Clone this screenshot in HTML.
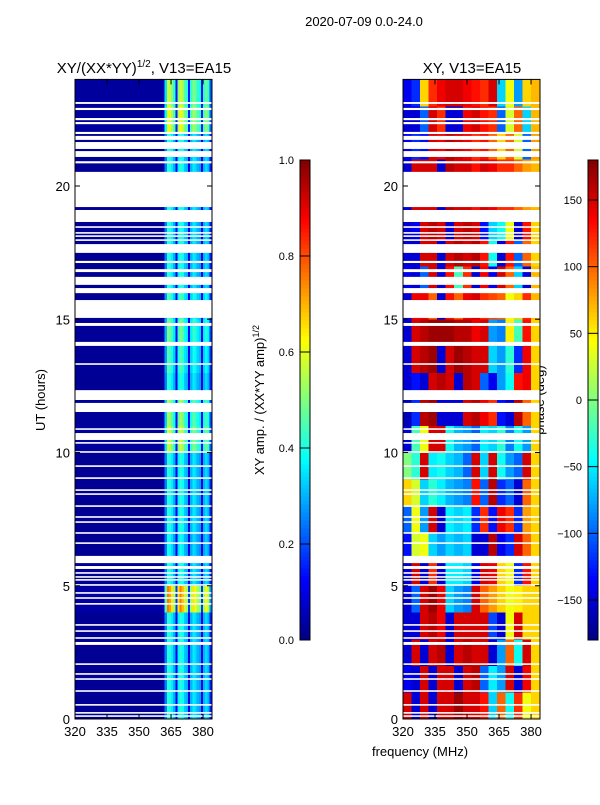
<!DOCTYPE html>
<html><head><meta charset="utf-8"><style>
html,body{margin:0;padding:0;background:#fff;}
svg text{font-family:"Liberation Sans","DejaVu Sans",sans-serif;fill:#000;}
</style></head><body>
<svg id="fig" xmlns="http://www.w3.org/2000/svg" width="600" height="800" viewBox="0 0 600 800">
<rect x="0" y="0" width="600" height="800" fill="#fff"/>
<text x="364" y="26" font-size="13" text-anchor="middle">2020-07-09 0.0-24.0</text>
<text x="144" y="73" font-size="15" text-anchor="middle">XY/(XX*YY)<tspan font-size="10" dy="-6">1/2</tspan><tspan dy="6">, V13=EA15</tspan></text>
<text x="472" y="73" font-size="15" text-anchor="middle">XY, V13=EA15</text>
<text x="45" y="400" font-size="13" text-anchor="middle" transform="rotate(-90 45 400)">UT (hours)</text>
<text x="420" y="756" font-size="13" text-anchor="middle">frequency (MHz)</text>
<text x="264" y="400" font-size="13" text-anchor="middle" transform="rotate(-90 264 400)">XY amp. / (XX*YY amp)<tspan font-size="9" dy="-5">1/2</tspan></text>
<text x="544" y="400" font-size="13" text-anchor="middle" transform="rotate(-90 544 400)">phase (deg)</text>
<g id="L"></g>
<g id="R"></g>
<g id="CB"></g>
</svg>
<script>
// ---- data ----
const hourTicks = [0,5,10,15,20];
const freqTicks = [320,335,350,365,380];
const ampTicks = [0.0,0.2,0.4,0.6,0.8,1.0];
const phaseTicks = [-150,-100,-50,0,50,100,150];
const gaps = [[23.08,23.15],[22.85,22.93],[22.47,22.55],[22.32,22.4],[21.95,22.03],[21.73,21.88],[21.39,21.65],[21.09,21.31],[20.85,20.93],[19.21,20.53],[18.65,19.1],[18.43,18.49],[18.21,18.27],[18.09,18.15],[17.94,18.0],[17.49,17.82],[17.11,17.19],[16.77,16.88],[16.29,16.59],[15.98,16.17],[15.05,15.72],[14.75,14.86],[14.0,14.15],[13.29,13.35],[11.97,12.34],[11.52,11.86],[10.85,10.91],[10.47,10.73],[10.33,10.39],[9.99,10.05],[9.46,9.52],[9.01,9.07],[8.56,8.62],[8.41,8.47],[7.96,8.02],[7.55,7.61],[7.36,7.42],[6.95,7.01],[6.57,6.63],[5.85,6.12],[5.63,5.74],[5.45,5.51],[5.3,5.36],[5.19,5.25],[5.0,5.06],[4.7,4.76],[4.51,4.57],[4.29,4.35],[3.5,3.56],[3.27,3.33],[3.01,3.07],[2.78,2.89],[2.03,2.09],[1.66,1.72],[1.47,1.53],[1.02,1.08],[0.5,0.56],[0.2,0.26],[0.08,0.14]];
const ampProfile = [0.02,0.02,0.02,0.02,0.02,0.02,0.02,0.02,0.02,0.02,0.02,0.02,0.02,0.02,0.02,0.02,0.02,0.02,0.02,0.02,0.02,0.02,0.02,0.02,0.02,0.02,0.02,0.02,0.02,0.02,0.02,0.02,0.02,0.02,0.02,0.02,0.02,0.02,0.02,0.02,0.02,0.04,0.25,0.42,0.4,0.36,0.3,0.1,0.36,0.42,0.38,0.32,0.3,0.1,0.3,0.36,0.34,0.3,0.28,0.1,0.3,0.34,0.3,0.15];
const ampScale = [1,1,1,1,1.8,1,0.95,1,1,1,1.4,1.3,1,1.1,1.2,1.1,1,1,1,1,1,1,1.5,1.4];
const phaseGrid = [
[150,-150,150,-150,150,150,170,150,150,130,-60,100,-40,120,40,60],
[-140,-150,150,-150,150,150,-150,150,160,-100,-50,-80,150,-150,140,60],
[-150,150,-150,150,160,-150,150,160,150,150,-150,-80,100,-40,150,60],
[-150,-150,150,160,140,-150,150,150,150,150,-110,-150,40,150,60,60],
[-150,-100,150,170,140,-60,-80,-90,150,100,80,60,40,50,60,60],
[-150,150,-150,120,-150,-50,-50,-60,-140,150,140,60,40,-120,130,60],
[-130,30,40,-60,-80,-60,-70,-60,-150,-150,160,-140,-120,150,100,60],
[-100,40,-80,150,-150,-50,-60,-50,-120,120,-130,140,120,-120,80,60],
[60,30,-60,-30,-50,-70,-80,-90,130,-100,160,-120,-100,-150,100,60],
[0,-30,150,-50,-40,-60,-70,-100,150,-60,150,-40,-80,-100,150,60],
[-150,-20,40,150,150,-40,-70,-80,-100,-50,-60,-30,-90,-40,-80,60],
[-160,-120,160,170,-150,-150,-150,150,160,140,120,-130,-150,160,100,60],
[-150,-130,-150,150,160,150,-150,160,150,-100,-140,-80,-40,130,140,60],
[-150,150,160,170,-150,150,170,160,150,150,-60,-80,-30,-120,140,60],
[-150,150,160,170,170,170,160,160,140,150,-80,-90,50,-20,130,60],
[-150,140,140,100,-150,130,100,140,150,120,110,100,40,60,120,70],
[-140,-150,-100,150,-150,130,-20,120,-150,140,-140,150,100,-60,-150,70],
[-150,-150,150,150,-150,150,160,150,160,130,-40,-150,130,-100,100,60],
[-150,-140,150,160,150,-150,150,160,150,-130,-60,-40,40,-150,130,60],
[-150,150,150,150,-150,160,150,150,130,150,140,120,120,100,80,70],
[-150,150,150,150,-150,160,150,150,130,150,140,120,120,100,80,70],
[-140,-120,-130,150,140,160,150,140,120,130,100,60,100,30,-100,80],
[-150,-150,-100,150,120,-150,-150,140,150,130,120,-100,30,100,-60,70],
[-140,-120,60,120,140,150,150,140,130,120,150,-60,40,-80,60,70]];

// ---- helpers ----
const NS="http://www.w3.org/2000/svg";
function mk(tag,attrs,parent){const e=document.createElementNS(NS,tag);for(const k in attrs)e.setAttribute(k,attrs[k]);parent.appendChild(e);return e;}
function jet(v){v=Math.max(0,Math.min(1,v));
 const r=Math.max(0,Math.min(1,1.5-Math.abs(4*v-3))),g=Math.max(0,Math.min(1,1.5-Math.abs(4*v-2))),b=Math.max(0,Math.min(1,1.5-Math.abs(4*v-1)));
 return `rgb(${Math.round(r*255)},${Math.round(g*255)},${Math.round(b*255)})`;}
const Y0=719, PXH=26.65;
function yS(h){return Y0-h*PXH;}
function xS(f,x0){return x0+(f-320)*(137/64.2);}
const TMAX=24, FMAX=384.2;

function panel(g,x0,kind){
 const bg=mk('g',{},g);
 const nBins=192, dt=TMAX/nBins;
 for(let i=0;i<nBins;i++){
  const h=i*dt, hi=Math.min(23,Math.floor(h+1e-9));
  if(kind==='amp'){
   for(let c=0;c<ampProfile.length;c++){
    const f0=320+c, f1=Math.min(FMAX,f0+1);
    const v=ampProfile[c]*ampScale[hi];
    const r=mk('rect',{x:xS(f0,x0),y:yS(h+dt),width:xS(f1,x0)-xS(f0,x0)+0.3,height:dt*PXH+0.3,fill:jet(v),'shape-rendering':'crispEdges'},bg);
    
    
   }
  } else {
   const row=phaseGrid[hi];
   for(let c=0;c<row.length;c++){
    const f0=320+c*4, f1=Math.min(FMAX,f0+4);
    const v=(row[c]+180)/360;
    const r=mk('rect',{x:xS(f0,x0),y:yS(h+dt),width:xS(f1,x0)-xS(f0,x0)+0.3,height:dt*PXH+0.3,fill:jet(v),'shape-rendering':'crispEdges'},bg);
    
    
   }
  }
 }
 gaps.forEach(gp=>{
  const r=mk('rect',{x:x0,y:yS(gp[1]),width:137,height:(gp[1]-gp[0])*PXH,fill:'#fff'},g);
  
  
 });
 const fr=mk('rect',{x:x0,y:yS(TMAX),width:137,height:TMAX*PXH,fill:'none',stroke:'#000','stroke-width':1},g);
 
 
 hourTicks.forEach(t=>{
  const y=yS(t);
  mk('line',{x1:x0,x2:x0+5,y1:y,y2:y,stroke:'#000'},g);
  mk('line',{x1:x0+137,x2:x0+132,y1:y,y2:y,stroke:'#000'},g);
  const tx=mk('text',{x:x0-5,y:y+5,'font-size':13,'text-anchor':'end'},g);
  tx.textContent=t;
  
  
 });
 freqTicks.forEach(f=>{
  const x=xS(f,x0);
  mk('line',{x1:x,x2:x,y1:Y0,y2:Y0-5,stroke:'#000'},g);
  mk('line',{x1:x,x2:x,y1:yS(TMAX),y2:yS(TMAX)+5,stroke:'#000'},g);
  const tx=mk('text',{x:x,y:Y0+17,'font-size':13,'text-anchor':'middle'},g);
  tx.textContent=f;
  
  
 });
}
panel(document.getElementById('L'),75,'amp');
panel(document.getElementById('R'),403,'phase');

function colorbar(g,x0,ticks,vmin,vmax,fmt,name){
 const top=160,bot=640,n=120;
 const grp=mk('g',{},g);
 
 
 for(let i=0;i<n;i++){
  const y=bot-(i+1)*(bot-top)/n;
  mk('rect',{x:x0,y:y,width:10,height:(bot-top)/n+0.4,fill:jet((i+0.5)/n),'shape-rendering':'crispEdges'},grp);
 }
 mk('rect',{x:x0,y:top,width:10,height:bot-top,fill:'none',stroke:'#000','stroke-width':1},grp);
 ticks.forEach(t=>{
  const y=bot-(t-vmin)/(vmax-vmin)*(bot-top);
  mk('line',{x1:x0,x2:x0+10,y1:y,y2:y,stroke:'#000'},grp);
  const tx=mk('text',{x:x0-6,y:y+4,'font-size':11,'text-anchor':'end'},grp);
  tx.textContent=fmt(t);
  
  
 });
}
const cb=document.getElementById('CB');
colorbar(cb,300,ampTicks,0,1,t=>t.toFixed(1),'amp-colorbar');
colorbar(cb,588,phaseTicks,-180,180,t=>(t<0?'\u2212'+(-t):''+t),'phase-colorbar');
</script>
</body></html>
